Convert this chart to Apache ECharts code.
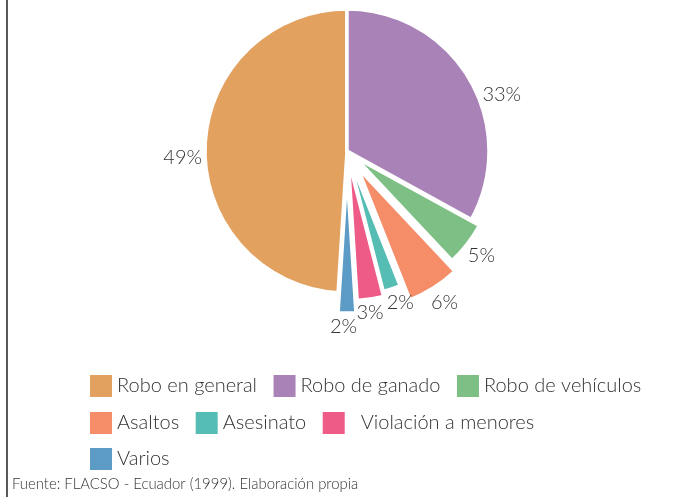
<!DOCTYPE html>
<html><head><meta charset="utf-8">
<script src="https://cdn.jsdelivr.net/npm/echarts@6/dist/echarts.min.js"></script>
<style>html,body{margin:0;padding:0;background:#fff}#c{width:694px;height:497px}</style>
</head><body><div id="c"></div>
<script>
// ---- data ----
const categories = ['Robo en general', 'Robo de ganado', 'Robo de vehículos', 'Asaltos', 'Asesinato', 'Violación a menores', 'Varios'];
const values = [49, 33, 5, 6, 2, 3, 2];
const legendRows = [[0, 1, 2], [3, 4, 5], [6]];
const sourceNote = 'Fuente: FLACSO - Ecuador (1999). Elaboración propia';

// ---- style ----
const colors = ['#E2A15F', '#A983B7', '#7DBF84', '#F58D69', '#56BDB5', '#EE5B87', '#5B9BC5'];
const explode = [0, 0, 10, 20, 3, 8, 20];
const labelShift = [[6, 11], [5, 19], [-7, 8], [-9, 10], [-10, 8], [-18, 7], [-20, 8]];
const FONT = 'Lato';
const TXT = '#333333';

const total = values.reduce((a, b) => a + b, 0);
const startAngle = 90 + values[0] / total * 360;
const offsets = [...new Set(explode)];

const series = offsets.map(off => ({
  type: 'pie',
  center: [347, 151],
  radius: 142,
  startAngle: startAngle,
  clockwise: true,
  selectedMode: 'multiple',
  selectedOffset: off,
  avoidLabelOverlap: false,
  silent: true,
  animation: false,
  emphasis: { disabled: true },
  labelLayout: { hideOverlap: false },
  label: {
    show: true, position: 'outside', fontFamily: FONT, fontSize: 20, fontWeight: 300, color: TXT,
    distanceToLabelLine: 3,
    formatter: p => values[p.dataIndex] + '%'
  },
  labelLine: { show: false, length: 6, length2: 0 },
  data: categories.map((name, i) => {
    const on = explode[i] === off;
    return {
      name: name,
      value: values[i],
      selected: on && off > 0,
      itemStyle: on ? { color: colors[i], borderColor: '#fff', borderWidth: 3.5 }
                    : { color: 'rgba(0,0,0,0)', borderWidth: 0 },
      label: { show: on, offset: labelShift[i] },
      select: { label: { show: on, offset: labelShift[i] } }
    };
  })
}));

const legendTops = [375, 412, 448];
const legend = legendRows.map((row, k) => ({
  left: 90, top: legendTops[k], padding: 0, orient: 'horizontal',
  itemWidth: 22, itemHeight: 22, itemGap: 16.5, icon: 'rect', selectedMode: false,
  textStyle: { fontFamily: FONT, fontSize: 20, fontWeight: 300, color: TXT },
  data: row.map(i => ({
    name: categories[i],
    itemStyle: { color: colors[i], borderWidth: 0 },
    textStyle: i === 5 ? { padding: [0, 0, 0, 11] } : {}
  }))
}));

const chart = echarts.init(document.getElementById('c'), null, { renderer: 'canvas' });
chart.setOption({
  backgroundColor: '#fff',
  animation: false,
  legend: legend,
  series: series,
  graphic: [
    { type: 'line', shape: { x1: 7, y1: 0, x2: 7, y2: 497 }, style: { stroke: '#222', lineWidth: 1.5 } },
    { type: 'text', left: 12, top: 477, style: { text: sourceNote, fontFamily: FONT, fontSize: 14.9, fontWeight: 300, fill: TXT } }
  ]
});
</script></body></html>
